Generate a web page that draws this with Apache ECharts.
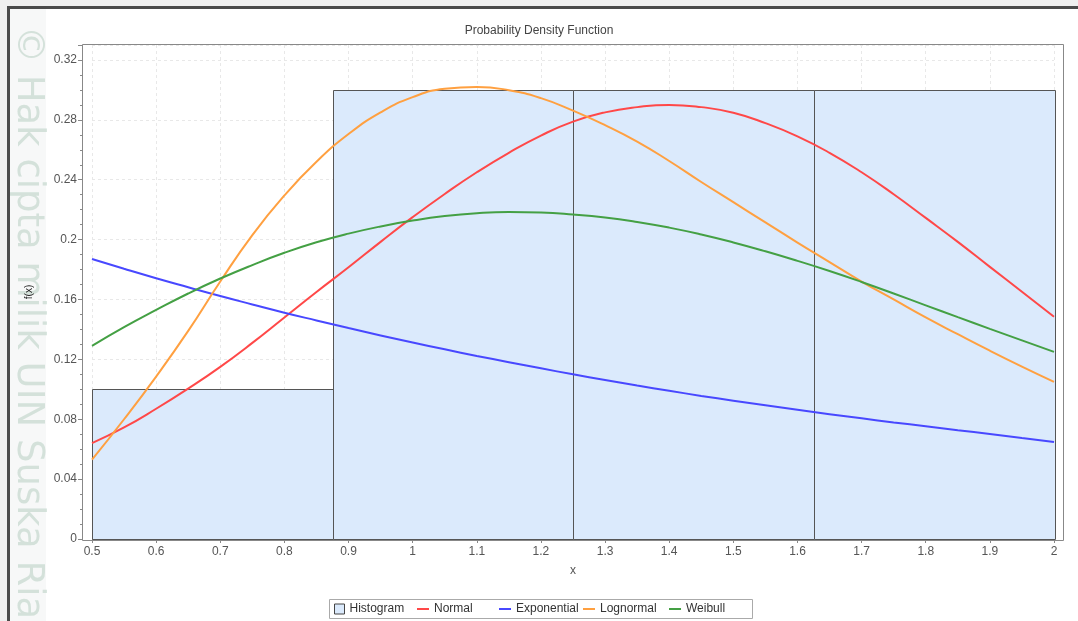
<!DOCTYPE html>
<html>
<head>
<meta charset="utf-8">
<script src="https://cdn.jsdelivr.net/npm/echarts@6/dist/echarts.min.js"></script>
<style>
  html, body { margin: 0; padding: 0; background: #ffffff; }
  #chart { width: 1078px; height: 621px; }
</style>
</head>
<body>
<div id="chart"></div>
<script>
// Sample points along x where each fitted density was evaluated
const xValues = [0.5, 0.55, 0.6, 0.65, 0.7, 0.75, 0.8, 0.85, 0.9, 0.95, 1.0,
                 1.05, 1.1, 1.15, 1.2, 1.25, 1.3, 1.35, 1.4, 1.45, 1.5,
                 1.55, 1.6, 1.65, 1.7, 1.75, 1.8, 1.85, 1.9, 1.95, 2.0];

const normalPdf = [0.0640, 0.0745, 0.0870, 0.1005, 0.1150, 0.1310, 0.1480, 0.1650, 0.1815, 0.1985, 0.2150,
                   0.2305, 0.2450, 0.2580, 0.2695, 0.2788, 0.2850, 0.2885, 0.2900, 0.2885, 0.2848,
                   0.2778, 0.2690, 0.2580, 0.2450, 0.2303, 0.2145, 0.1985, 0.1818, 0.1652, 0.1485];

const exponentialPdf = [0.1870, 0.1805, 0.1742, 0.1682, 0.1623, 0.1567, 0.1512, 0.1460, 0.1409, 0.1360, 0.1313,
                        0.1267, 0.1223, 0.1181, 0.1140, 0.1100, 0.1062, 0.1025, 0.0990, 0.0956, 0.0924,
                        0.0893, 0.0863, 0.0834, 0.0806, 0.0779, 0.0753, 0.0727, 0.0702, 0.0675, 0.0648];

const lognormalPdf = [0.0530, 0.0800, 0.1085, 0.1390, 0.1720, 0.2030, 0.2295, 0.2520, 0.2705, 0.2850, 0.2952,
                      0.3008, 0.3020, 0.2998, 0.2945, 0.2862, 0.2765, 0.2655, 0.2525, 0.2385, 0.2250,
                      0.2115, 0.1980, 0.1850, 0.1720, 0.1600, 0.1480, 0.1368, 0.1258, 0.1152, 0.1050];

const weibullPdf = [0.1290, 0.1415, 0.1530, 0.1640, 0.1740, 0.1830, 0.1912, 0.1982, 0.2040, 0.2088, 0.2127,
                    0.2157, 0.2176, 0.2184, 0.2181, 0.2168, 0.2148, 0.2118, 0.2080, 0.2034, 0.1981,
                    0.1922, 0.1858, 0.1790, 0.1717, 0.1640, 0.1561, 0.1482, 0.1404, 0.1327, 0.1250];

// Histogram bins (relative frequency per bin)
const binStart = [0.5, 0.875, 1.25, 1.625];
const binEnd = [0.875, 1.25, 1.625, 2.0];
const binHeight = [0.1, 0.3, 0.3, 0.3];

const FONT = '"Liberation Sans", Arial, sans-serif';
const chart = echarts.init(document.getElementById('chart'), null, { renderer: 'canvas' });

const pairs = ys => xValues.map((x, i) => [x, ys[i]]);
const histData = binStart.map((s, i) => [s, binEnd[i], binHeight[i]]);

const curve = (name, ys, color) => ({
  name: name,
  type: 'line',
  data: pairs(ys),
  smooth: true,
  showSymbol: false,
  symbol: 'none',
  z: 5,
  itemStyle: { color: color },
  lineStyle: { color: color, width: 2 }
});

const legendItem = (data, left, extra) => Object.assign({
  data: data,
  left: left,
  top: 603,
  padding: 0,
  selectedMode: false,
  icon: 'rect',
  itemWidth: 12,
  itemHeight: 2,
  textStyle: { fontSize: 12, color: '#333', fontFamily: FONT }
}, extra || {});

chart.setOption({
  animation: false,
  backgroundColor: '#ffffff',
  title: {
    text: 'Probability Density Function',
    left: 'center',
    top: 25,
    padding: 0,
    textStyle: { fontSize: 12, fontWeight: 'normal', color: '#444', fontFamily: FONT }
  },
  grid: { left: 92, right: 24, top: 45, bottom: 82, containLabel: false },
  xAxis: {
    type: 'value',
    min: 0.5,
    max: 2,
    interval: 0.1,
    offset: 2,
    name: 'x',
    nameLocation: 'middle',
    nameGap: 24,
    nameTextStyle: { fontSize: 12, color: '#555', fontFamily: FONT },
    axisLine: { show: false },
    axisTick: { show: true, inside: false, length: 4, lineStyle: { color: '#888' } },
    minorTick: { show: true, splitNumber: 4, length: 2, lineStyle: { color: '#888' } },
    axisLabel: { fontSize: 12, color: '#555', margin: 5, fontFamily: FONT },
    splitLine: { show: true, lineStyle: { color: '#e8e8e8', type: [3, 3] } }
  },
  yAxis: {
    type: 'value',
    min: 0,
    max: 0.33,
    interval: 0.04,
    offset: 10,
    name: 'f(x)',
    nameLocation: 'middle',
    nameGap: 48,
    nameTextStyle: { fontSize: 10, color: '#222', fontFamily: FONT },
    axisLine: { show: false },
    axisTick: { show: true, inside: false, length: 4, lineStyle: { color: '#888' } },
    minorTick: { show: true, splitNumber: 4, length: 2, lineStyle: { color: '#888' } },
    axisLabel: { fontSize: 12, color: '#555', margin: 5, fontFamily: FONT, showMaxLabel: false },
    splitLine: { show: true, lineStyle: { color: '#e8e8e8', type: [3, 3] } }
  },
  legend: [
    legendItem([{ name: 'Histogram', itemStyle: { color: '#dbeafc', borderColor: '#444', borderWidth: 1 } }], 334,
               { itemWidth: 10, itemHeight: 10 }),
    legendItem(['Normal'], 417),
    legendItem(['Exponential'], 499),
    legendItem(['Lognormal'], 583),
    legendItem(['Weibull'], 669)
  ],
  graphic: [
    // window chrome around the chart panel
    { type: 'rect', shape: { x: 0, y: 0, width: 1078, height: 6 }, style: { fill: '#efefef' }, z: -20 },
    { type: 'rect', shape: { x: 0, y: 0, width: 7, height: 621 }, style: { fill: '#efefef' }, z: -20 },
    { type: 'rect', shape: { x: 10, y: 9, width: 36, height: 612 }, style: { fill: '#f7f8f8' }, z: -20 },
    { type: 'rect', shape: { x: 7, y: 6, width: 1071, height: 3 }, style: { fill: '#4a4a4a' }, z: 20 },
    { type: 'rect', shape: { x: 7, y: 6, width: 3, height: 615 }, style: { fill: '#4a4a4a' }, z: 20 },
    {
      type: 'text', x: 28, y: 26, rotation: -Math.PI / 2, z: -15,
      style: {
        text: '© Hak cipta milik UIN Suska Riau',
        font: '37px "DejaVu Sans", sans-serif',
        fill: 'rgba(150, 185, 165, 0.36)',
        textAlign: 'left',
        textVerticalAlign: 'middle'
      }
    },
    // plot background and frame
    { type: 'rect', shape: { x: 82.5, y: 44.5, width: 981, height: 496 }, style: { fill: '#ffffff', stroke: 'none' }, z: -10 },
    { type: 'rect', shape: { x: 82.5, y: 44.5, width: 981, height: 496 }, style: { fill: 'none', stroke: '#888', lineWidth: 1 }, z: 10 },
    // legend frame
    { type: 'rect', shape: { x: 329.5, y: 599.5, width: 423, height: 19 }, style: { fill: '#ffffff', stroke: '#aaa', lineWidth: 1 }, z: -5 }
  ],
  series: [
    {
      name: 'Histogram',
      type: 'custom',
      data: histData,
      encode: { x: [0, 1], y: 2 },
      z: 3,
      itemStyle: { color: '#dbeafc', borderColor: '#444', borderWidth: 1 },
      renderItem: function (params, api) {
        const p0 = api.coord([api.value(0), api.value(2)]);
        const p1 = api.coord([api.value(1), 0]);
        return {
          type: 'rect',
          shape: { x: Math.round(p0[0]) + 0.5, y: Math.round(p0[1]) + 0.5,
                   width: Math.round(p1[0] - p0[0]), height: Math.round(p1[1] - p0[1]) },
          style: { fill: '#dbeafc', stroke: '#555', lineWidth: 1 }
        };
      }
    },
    curve('Normal', normalPdf, '#ff4848'),
    curve('Exponential', exponentialPdf, '#4848ff'),
    curve('Lognormal', lognormalPdf, '#ffa040'),
    curve('Weibull', weibullPdf, '#44a044')
  ]
});
</script>
</body>
</html>
